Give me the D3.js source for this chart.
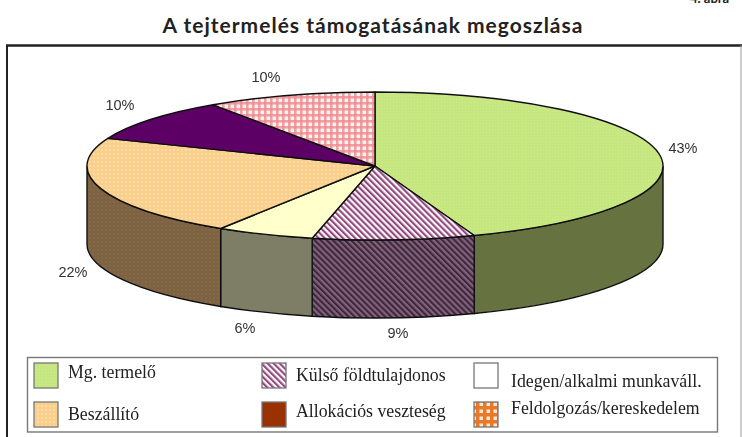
<!DOCTYPE html>
<html><head><meta charset="utf-8">
<script src="https://cdn.jsdelivr.net/npm/d3@7/dist/d3.min.js"></script>
<style>html,body{margin:0;padding:0;background:#fff}svg{display:block}</style>
</head><body><svg id="c" width="742" height="437"></svg>
<script>
const categories=["Mg. termelő","Külső földtulajdonos","Idegen/alkalmi munkaváll.","Beszállító","Allokációs veszteség","Feldolgozás/kereskedelem"];
const labels=["43%","9%","6%","22%","10%","10%"];
const sliceShares=[44.4,9.1,5.5,22.1,9.4,9.5];
const topFills=["url(#green)","url(#stripe)","#ffffcc","url(#dots)","#5c0066","url(#check)"];
const sideFills=["#66733f","url(#stripeDark)","#7e7e66","url(#dotsDark)","#330033","#7f7f7f"];
const legendFills=["url(#green)","url(#stripe)","#ffffff","url(#dots)","#993300","url(#checkOrange)"];

const svg=d3.select("#c");
const defs=svg.append("defs");
function pat(id,w,h,bg,draw,rot){
  const p=defs.append("pattern").attr("id",id).attr("width",w).attr("height",h).attr("patternUnits","userSpaceOnUse");
  if(rot)p.attr("patternTransform",`rotate(${rot})`);
  p.append("rect").attr("width",w).attr("height",h).attr("fill",bg);
  draw(p);
}
pat("green",3,3,"#c6e680",p=>p.append("rect").attr("width",1).attr("height",1).attr("fill","#cfea90"));
pat("stripe",4.3,4.3,"#fbf3f8",p=>p.append("rect").attr("width",2.1).attr("height",4.3).attr("fill","#8d4a7c"),-45);
pat("stripeDark",4.3,4.3,"#80647a",p=>p.append("rect").attr("width",2.1).attr("height",4.3).attr("fill","#40263d"),-45);
pat("dots",4,4,"#f9cf8b",p=>p.append("circle").attr("cx",2).attr("cy",2).attr("r",.9).attr("fill","#fde3b8"));
pat("dotsDark",4,4,"#7d6443",p=>p.append("circle").attr("cx",2).attr("cy",2).attr("r",.9).attr("fill","#86694c"));
pat("check",6,6,"#fdf3f0",p=>{p.append("rect").attr("width",2.6).attr("height",6).attr("fill","#ef8a90").attr("opacity",.8);p.append("rect").attr("width",6).attr("height",2.6).attr("fill","#ef8a90").attr("opacity",.8);});
pat("checkOrange",7,7,"#fbe7d2",p=>{p.append("rect").attr("width",3.5).attr("height",7).attr("fill","#e8782a");p.append("rect").attr("width",7).attr("height",3.5).attr("fill","#e8782a");});
const blur=defs.append("filter").attr("id","soft").attr("x","-5%").attr("y","-5%").attr("width","110%").attr("height","110%");
blur.append("feGaussianBlur").attr("stdDeviation",0.45);

svg.append("text").attr("x",373).attr("y",33).attr("text-anchor","middle")
  .attr("font-family","Lato").attr("font-weight",700).attr("font-size",21).attr("letter-spacing",1).attr("fill","#222")
  .text("A tejtermelés támogatásának megoszlása");
svg.append("text").attr("x",690).attr("y",3).attr("font-family","Lato").attr("font-weight",700).attr("font-size",13).attr("fill","#222").text("4. ábra");
svg.append("path").attr("d","M6 45.5H742").attr("stroke","#222").attr("stroke-width",2.4);
svg.append("path").attr("d","M7 45V437").attr("stroke","#222").attr("stroke-width",2);
svg.append("path").attr("d","M741 45V437").attr("stroke","#999").attr("stroke-width",1);

const cx=375,cy=166,rx=288,ry=74,depth=78;
const X=d3.scaleLinear().domain([-1,1]).range([cx-rx,cx+rx]);
const Y=d3.scaleLinear().domain([-1,1]).range([cy-ry,cy+ry]);
const arcsData=d3.pie().sort(null)(sliceShares);
const px=a=>X(Math.sin(a)),py=a=>Y(-Math.cos(a));
const chart=svg.append("g").attr("filter","url(#soft)");
const H=Math.PI/2,W=3*Math.PI/2;
arcsData.forEach((d,i)=>{
  const a0=Math.max(d.startAngle,H),a1=Math.min(d.endAngle,W);
  if(a1<=a0)return;
  const large=(a1-a0)>Math.PI?1:0;
  const path=`M${px(a0)} ${py(a0)}A${rx} ${ry} 0 ${large} 1 ${px(a1)} ${py(a1)}L${px(a1)} ${py(a1)+depth}A${rx} ${ry} 0 ${large} 0 ${px(a0)} ${py(a0)+depth}Z`;
  chart.append("path").attr("d",path).attr("fill",sideFills[i]).attr("stroke","#111").attr("stroke-width",1.4);
});
arcsData.forEach((d,i)=>{
  const a0=d.startAngle,a1=d.endAngle,large=(a1-a0)>Math.PI?1:0;
  chart.append("path").attr("d",`M${cx} ${cy}L${px(a0)} ${py(a0)}A${rx} ${ry} 0 ${large} 1 ${px(a1)} ${py(a1)}Z`)
    .attr("fill",topFills[i]).attr("stroke","#111").attr("stroke-width",1.4).attr("stroke-linejoin","round");
});
const labelX=[683,398,245,73,120,266],labelY=[148,333,328,272,105,77];
labels.forEach((t,i)=>chart.append("text").attr("x",labelX[i]).attr("y",labelY[i]+5).attr("text-anchor","middle")
  .attr("font-family","Liberation Sans").attr("font-size",14.5).attr("fill","#333").text(t));
const lg=svg.append("g").attr("filter","url(#soft)");
lg.append("rect").attr("x",27.5).attr("y",357.5).attr("width",690).attr("height",74.5).attr("fill","#fff").attr("stroke","#777").attr("stroke-width",1.4);
const swX=[34,262,474,34,262,474],swY=[363,363,363,402,402,402];
const txX=[68,296,511,68,296,511],txY=[378,381,387,420,417,414];
categories.forEach((c,i)=>{
  lg.append("rect").attr("x",swX[i]).attr("y",swY[i]).attr("width",24).attr("height",25).attr("fill",legendFills[i]).attr("stroke","#777").attr("stroke-width",1.3);
  lg.append("text").attr("x",txX[i]).attr("y",txY[i]).attr("font-family","Liberation Serif").attr("font-size",17.8).attr("fill","#222").text(c);
});
</script></body></html>
